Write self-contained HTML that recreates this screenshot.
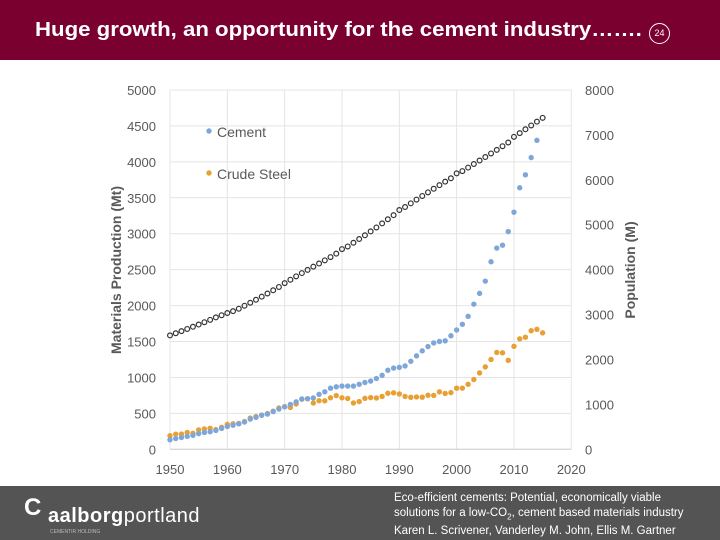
<!DOCTYPE html>
<html><head><meta charset="utf-8"><style>
body{margin:0;width:720px;height:540px;overflow:hidden;background:#fff;font-family:"Liberation Sans",sans-serif;position:relative}
#hdr{position:absolute;left:0;top:0;width:720px;height:60px;background:#7a0030}
#title{position:absolute;left:35px;top:19px;color:#fff;font-size:20px;font-weight:bold;transform:scaleX(1.11);transform-origin:left;white-space:nowrap}
#pg{position:absolute;left:649px;top:23px;width:19px;height:19px;border:1px solid #fff;border-radius:50%;color:#fff;font-size:9px;text-align:center;line-height:19px}
#ftr{position:absolute;left:0;top:486px;width:720px;height:54px;background:#545454}
#logo{position:absolute;left:48px;top:505px;color:#fff;font-size:20px;letter-spacing:0.5px}
#logoc{position:absolute;left:24px;top:494px;color:#fff;font-size:24px;font-weight:bold}
#sub{position:absolute;left:50px;top:529px;color:#bbb;font-size:5px}
#cite{position:absolute;left:394px;top:491px;color:#fff;font-size:11.5px;line-height:15px}
</style></head><body>
<div id="hdr"></div>
<div id="title">Huge growth, an opportunity for the cement industry…….</div>
<div id="pg">24</div>
<svg id="chart" width="720" height="540" style="position:absolute;left:0;top:0"></svg>
<div id="ftr"></div>
<div id="logoc">C</div>
<div id="logo"><b>aalborg</b>portland</div>
<div id="sub">CEMENTIR HOLDING</div>
<div id="cite">Eco-efficient cements: Potential, economically viable<br>solutions for a low-CO<sub style="font-size:8px">2</sub>, cement based materials industry<br>Karen L. Scrivener, Vanderley M. John, Ellis M. Gartner</div>
<script>
const cementStart=1950;
const cement=[133,150,165,180,195,218,235,245,262,290,317,335,355,380,420,445,475,490,525,560,590,625,660,700,705,715,765,800,850,870,880,880,880,905,930,950,985,1030,1100,1130,1140,1160,1225,1300,1370,1430,1480,1500,1510,1580,1660,1740,1850,2020,2170,2340,2610,2800,2840,3030,3300,3640,3820,4060,4300];
const steel=[189,211,212,235,223,270,283,292,274,306,347,354,360,386,435,456,475,497,530,575,595,582,630,697,703,644,676,675,717,747,717,707,645,664,710,719,714,736,780,786,770,736,723,728,725,752,750,799,777,789,850,851,905,971,1063,1147,1250,1348,1343,1238,1433,1538,1560,1650,1670,1620];
const population=[2536,2584,2631,2679,2728,2778,2830,2883,2937,2986,3035,3076,3130,3197,3263,3330,3398,3469,3541,3615,3700,3776,3851,3924,3995,4066,4136,4207,4280,4356,4458,4516,4599,4682,4765,4851,4939,5030,5122,5213,5327,5395,5477,5560,5641,5721,5801,5881,5959,6035,6143,6195,6273,6351,6429,6507,6587,6667,6748,6831,6957,7040,7125,7210,7295,7380];
const xTicks=[1950,1960,1970,1980,1990,2000,2010,2020];
const yTicks=[0,500,1000,1500,2000,2500,3000,3500,4000,4500,5000];
const y2Ticks=[0,1000,2000,3000,4000,5000,6000,7000,8000];
const NS="http://www.w3.org/2000/svg";
const svg=document.getElementById('chart');
const X0=170,X1=571.3,Y0=449.3,Y1=90;
const x=v=>X0+(v-1950)/70*(X1-X0);
const y=v=>Y0-v/5000*(Y0-Y1);
const y2=v=>Y0-v/8000*(Y0-Y1);
function mk(t,a){const e=document.createElementNS(NS,t);for(const k in a)e.setAttribute(k,a[k]);svg.appendChild(e);return e;}
yTicks.forEach(v=>{
 const l=mk('line',{x1:X0,x2:X1,y1:y(v),y2:y(v),stroke:'#e4e4e4','stroke-width':1});
 
 
 const t=mk('text',{x:156,y:y(v)+5,'text-anchor':'end','font-size':13,fill:'#595959'});t.textContent=v;
 
 
});
xTicks.forEach(v=>{
 const l=mk('line',{x1:x(v),x2:x(v),y1:Y1,y2:Y0,stroke:'#e4e4e4','stroke-width':1});
 
 
 const t=mk('text',{x:x(v),y:474,'text-anchor':'middle','font-size':13,fill:'#595959'});t.textContent=v;
 
 
});
y2Ticks.forEach(v=>{
 const t=mk('text',{x:585,y:y2(v)+5,'text-anchor':'start','font-size':13,fill:'#595959'});t.textContent=v;
 
 
});
let ax=mk('line',{x1:X0,x2:X1,y1:Y0,y2:Y0,stroke:'#d0d0d0','stroke-width':1});


let yt=mk('text',{x:0,y:0,transform:'translate(121,270) rotate(-90)','text-anchor':'middle','font-size':14,'font-weight':'bold',fill:'#595959'});yt.textContent='Materials Production (Mt)';


let y2t=mk('text',{x:0,y:0,transform:'translate(635,270) rotate(-90)','text-anchor':'middle','font-size':14,'font-weight':'bold',fill:'#595959'});y2t.textContent='Population (M)';


population.forEach((v,i)=>{
 const c=mk('circle',{cx:x(cementStart+i),cy:y2(v),r:2.4,fill:'none',stroke:'#333','stroke-width':1.2});
 
 
});
steel.forEach((v,i)=>{
 const c=mk('circle',{cx:x(cementStart+i),cy:y(v),r:2.7,fill:'#e8a033'});
 
 
});
cement.forEach((v,i)=>{
 const c=mk('circle',{cx:x(cementStart+i),cy:y(v),r:2.7,fill:'#7ea6d8'});
 
 
});
[['Cement','#7ea6d8',132],['Crude Steel','#e8a033',174]].forEach(([n,col,yy])=>{
 const c=mk('circle',{cx:209,cy:yy-1,r:2.7,fill:col});
 
 
 const t=mk('text',{x:217,y:yy+5,'font-size':14,fill:'#595959'});t.textContent=n;
 
 
});
</script>
</body></html>
